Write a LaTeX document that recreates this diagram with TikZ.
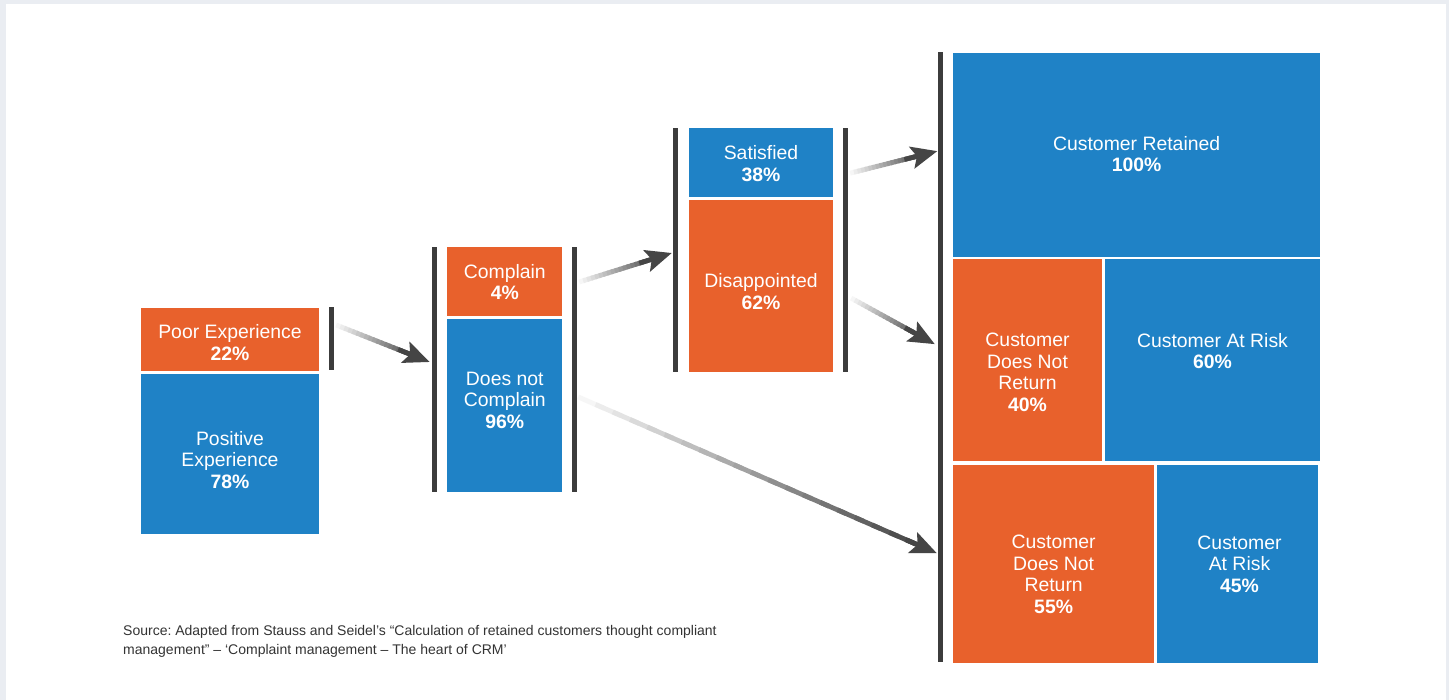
\documentclass[tikz,border=0pt]{standalone}
\usepackage{fontspec}
\setmainfont{Liberation Sans}
\usetikzlibrary{calc,arrows.meta}

\definecolor{corange}{HTML}{E8612C}
\definecolor{cblue}{HTML}{1F82C6}
\definecolor{bargray}{HTML}{3C3C3C}
\definecolor{arrowgray}{HTML}{454545}
\definecolor{pagegray}{HTML}{EAEDF2}
\definecolor{srcgray}{HTML}{333333}

\tikzset{
  orangebox/.style={fill=corange, inner sep=0pt},
  bluebox/.style={fill=cblue, inner sep=0pt},
  bar/.style={fill=bargray, inner sep=0pt, minimum width=5pt},
  boxtext/.style={text=white, align=center, inner sep=0pt, font=\fontsize{19.4}{21.5}\selectfont},
  source/.style={text=srcgray, align=left, inner sep=0pt, font=\fontsize{14}{19.5}\selectfont\frenchspacing},
  flowline/.style={line width=4.8pt, line cap=butt},
}

% arrow that fades in from white towards its tip
\newcommand\flowarrow[2]{%
  \coordinate (fa-end) at ($(#2)!14pt!(#1)$);
  \foreach \i in {0,...,19}{
    \pgfmathsetmacro\ta{\i/20}
    \pgfmathsetmacro\tb{min((\i+1.5)/20,1)}
    \pgfmathsetmacro\pct{5+\i*5}
    \draw[flowline, draw=arrowgray!\pct] ($(#1)!\ta!(fa-end)$) -- ($(#1)!\tb!(fa-end)$);
  }
  \draw[flowline, draw=arrowgray, -{Stealth[length=26pt, width=22pt, inset=5pt]}] ($(#2)!34pt!(#1)$) -- (#2);
}

\begin{document}
\begin{tikzpicture}[x=1pt, y=-1pt]
    \useasboundingbox (0,0) rectangle (1449,700);
    % page
    \fill[pagegray] (0,0) rectangle (1449,700);
    \fill[white] (6,4) rectangle (1446,700);

    % Stage 1: experience
    \node[orangebox, minimum width=178pt, minimum height=63pt] (poor) at (230,339.5) {};
    \node[bluebox, minimum width=178pt, minimum height=160pt] (pos) at (230,454) {};
    \node[boxtext] (poor-t) at (230,342.5) {Poor Experience\\\textbf{22\%}};
    \node[boxtext] (pos-t) at (230,460) {Positive\\Experience\\\textbf{78\%}};
    \node[bar, minimum height=63pt] (bar1) at (331,338.5) {};

    % Stage 2: complaint
    \node[bar, minimum height=245.3pt] (bar2) at (434.2,369.35) {};
    \node[orangebox, minimum width=115pt, minimum height=69.3pt] (compl) at (504.8,281.35) {};
    \node[bluebox, minimum width=115pt, minimum height=173.3pt] (nocompl) at (504.8,405.35) {};
    \node[boxtext] (compl-t) at (504.8,282) {Complain\\\textbf{4\%}};
    \node[boxtext] (nocompl-t) at (504.8,400) {Does not\\Complain\\\textbf{96\%}};
    \node[bar, minimum height=245.3pt] (bar3) at (574.2,369.35) {};

    % Stage 3: outcome of the complaint
    \node[bar, minimum height=243.7pt] (bar4) at (675,250.15) {};
    \node[bluebox, minimum width=143.4pt, minimum height=68.7pt] (sat) at (761,162.65) {};
    \node[orangebox, minimum width=143.4pt, minimum height=172pt] (dis) at (761,286) {};
    \node[boxtext] (sat-t) at (761,163.5) {Satisfied\\\textbf{38\%}};
    \node[boxtext] (dis-t) at (761,291.5) {Disappointed\\\textbf{62\%}};
    \node[bar, minimum height=243.7pt] (bar5) at (845,250.15) {};

    % Stage 4: retention
    \node[bar, minimum height=609.7pt] (bigbar) at (940,357.15) {};
    \node[bluebox, minimum width=366.7pt, minimum height=203.4pt] (ret) at (1136.65,155) {};
    \node[orangebox, minimum width=148.4pt, minimum height=201.7pt] (cdnr40) at (1027.5,360.15) {};
    \node[bluebox, minimum width=215pt, minimum height=201.7pt] (car60) at (1212.5,360.15) {};
    \node[orangebox, minimum width=200.7pt, minimum height=198.3pt] (cdnr55) at (1053.65,564.15) {};
    \node[bluebox, minimum width=161pt, minimum height=198.3pt] (car45) at (1237.5,564.15) {};
    \node[boxtext] (ret-t) at (1136.65,154) {Customer Retained\\\textbf{100\%}};
    \node[boxtext] (cdnr40-t) at (1027.5,372.5) {Customer\\Does Not\\Return\\\textbf{40\%}};
    \node[boxtext] (car60-t) at (1212.5,351) {Customer At Risk\\\textbf{60\%}};
    \node[boxtext] (cdnr55-t) at (1053.65,574.5) {Customer\\Does Not\\Return\\\textbf{55\%}};
    \node[boxtext] (car45-t) at (1239.5,564) {Customer\\At Risk\\\textbf{45\%}};

    % arrow ends
    \path (bar1.east) ++(2.5,-13.5) coordinate (f1a);
    \path (bar2.west) ++(-1.7,-7.35) coordinate (f1b);
    \path (bar3.east) ++(2.3,-87.35) coordinate (f2a);
    \path (bar4.west) ++(-0.5,2.85) coordinate (f2b);
    \path (bar5.east) ++(2.5,-77) coordinate (f3a);
    \path (bigbar.west) ++(0,-206) coordinate (f3b);
    \path (bar5.east) ++(3.5,48) coordinate (f4a);
    \path (bigbar.west) ++(-2.5,-13) coordinate (f4b);
    \path (bar3.east) ++(1.3,27.6) coordinate (f5a);
    \path (bigbar.west) ++(-0.5,196) coordinate (f5b);

    % arrows
    \flowarrow{f1a}{f1b}
    \flowarrow{f2a}{f2b}
    \flowarrow{f3a}{f3b}
    \flowarrow{f4a}{f4b}
    \flowarrow{f5a}{f5b}

    \node[source, anchor=north west] (src) at (123,625)
        {Source: Adapted from Stauss and Seidel’s “Calculation of retained customers thought compliant\\management” – ‘Complaint management – The heart of CRM’};
\end{tikzpicture}
\end{document}
